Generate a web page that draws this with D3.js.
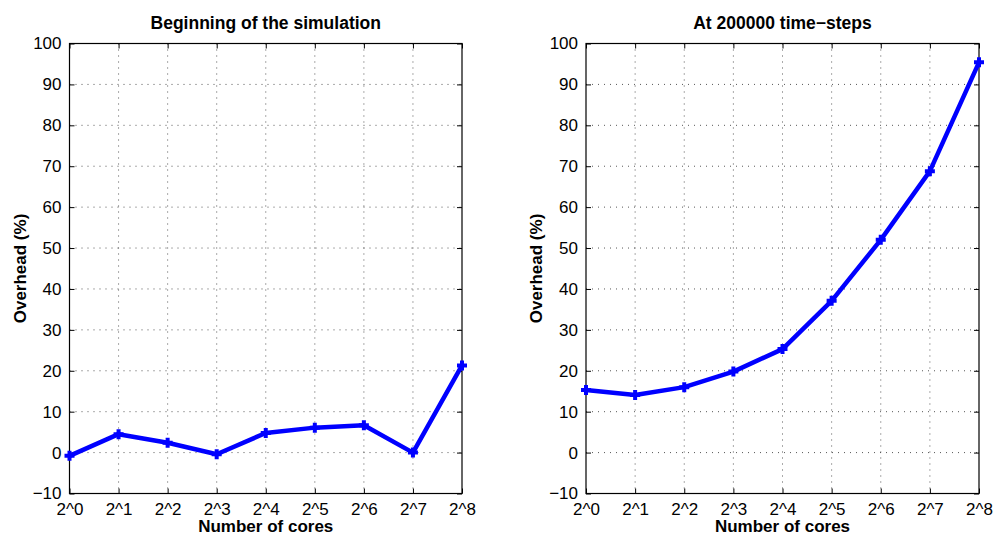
<!DOCTYPE html>
<html>
<head>
<meta charset="utf-8">
<script src="https://cdn.jsdelivr.net/npm/d3@7"></script>
<style>
  html, body { margin: 0; padding: 0; background: #fff; }
  svg { display: block; font-family: "Liberation Sans", Arial, Helvetica, sans-serif; }
</style>
</head>
<body>
<svg id="chart" width="994" height="536"></svg>
<script>
// Core counts (powers of two) shown on the x axis
const cores = ["2^0", "2^1", "2^2", "2^3", "2^4", "2^5", "2^6", "2^7", "2^8"];
// Overhead (%) right after start-up
const overheadStart = [-0.8, 4.5, 2.4, -0.4, 4.8, 6.1, 6.7, 0.0, 21.3];
// Overhead (%) after 200000 time-steps
const overheadLater = [15.3, 14.1, 16.0, 19.8, 25.3, 37.1, 52.0, 68.8, 95.4];
// Y axis ticks
const yTicks = [-10, 0, 10, 20, 30, 40, 50, 60, 70, 80, 90, 100];

const panels = [
  { title: "Beginning of the simulation", values: overheadStart, left: 69.5, right: 462, ylabelX: 20 },
  { title: "At 200000 time\u2212steps", values: overheadLater, left: 586, right: 979, ylabelX: 536 }
];

const svg = d3.select("#chart");
const plotTop = 43.5, plotBottom = 493.5;
const tickLen = 5;

panels.forEach(p => {
  const x = d3.scalePoint().domain(cores).range([p.left, p.right]);
  const y = d3.scaleLinear().domain([-10, 100]).range([plotBottom, plotTop]);
  const g = svg.append("g");

  // dotted grid
  g.append("g").selectAll("line").data(cores.slice(1, -1)).join("line")
    .attr("x1", d => x(d)).attr("x2", d => x(d))
    .attr("y1", plotTop).attr("y2", plotBottom)
    .attr("stroke", "#444").attr("stroke-width", 0.9)
    .attr("stroke-dasharray", "1,5");
  g.append("g").selectAll("line").data(yTicks.slice(1, -1)).join("line")
    .attr("x1", p.left).attr("x2", p.right)
    .attr("y1", d => y(d)).attr("y2", d => y(d))
    .attr("stroke", "#444").attr("stroke-width", 0.9)
    .attr("stroke-dasharray", "1,5");

  // inward ticks on all four sides
  const axL = d3.axisLeft(y).tickValues(yTicks).tickSize(-tickLen).tickPadding(tickLen + 3).tickFormat(d => d < 0 ? "\u221210" : d);
  const axR = d3.axisRight(y).tickValues(yTicks).tickSize(-tickLen).tickFormat("");
  const axB = d3.axisBottom(x).tickSize(-tickLen).tickPadding(tickLen + 4);
  const axT = d3.axisTop(x).tickSize(-tickLen).tickFormat("");

  const styleAxis = sel => {
    sel.select(".domain").remove();
    sel.selectAll(".tick line").attr("stroke", "#000").attr("stroke-width", 1);
    sel.selectAll(".tick text").attr("fill", "#000").style("font-size", "17px")
      .style("font-family", "'Liberation Sans', Arial, sans-serif");
  };
  g.append("g").attr("transform", `translate(${p.left},0)`).call(axL).call(styleAxis);
  g.append("g").attr("transform", `translate(${p.right},0)`).call(axR).call(styleAxis);
  g.append("g").attr("transform", `translate(0,${plotBottom})`).call(axB).call(styleAxis);
  g.append("g").attr("transform", `translate(0,${plotTop})`).call(axT).call(styleAxis);

  // axes box
  g.append("rect").attr("x", p.left).attr("y", plotTop)
    .attr("width", p.right - p.left).attr("height", plotBottom - plotTop)
    .attr("fill", "none").attr("stroke", "#000").attr("stroke-width", 1.2);

  // data line
  const pts = p.values.map((v, i) => [x(cores[i]), y(v)]);
  g.append("path").datum(pts)
    .attr("d", d3.line())
    .attr("fill", "none").attr("stroke", "#0000ff")
    .attr("stroke-width", 4.5).attr("stroke-linejoin", "round");

  // plus markers
  const m = 5;
  g.append("g").selectAll("path").data(pts).join("path")
    .attr("d", d => `M${d[0] - m},${d[1]}H${d[0] + m}M${d[0]},${d[1] - m}V${d[1] + m}`)
    .attr("stroke", "#0000ff").attr("stroke-width", 4).attr("fill", "none");

  // titles and labels
  const cx = (p.left + p.right) / 2;
  g.append("text").attr("x", cx).attr("y", 29)
    .attr("text-anchor", "middle").style("font-weight", "bold").style("font-size", "17.5px")
    .text(p.title);
  g.append("text").attr("x", cx).attr("y", 532)
    .attr("text-anchor", "middle").style("font-weight", "bold").style("font-size", "17px")
    .text("Number of cores");
  g.append("text")
    .attr("transform", `translate(${p.ylabelX + 6},${(plotTop + plotBottom) / 2}) rotate(-90)`)
    .attr("text-anchor", "middle").style("font-weight", "bold").style("font-size", "17px")
    .text("Overhead (%)");
});
</script>
</body>
</html>
